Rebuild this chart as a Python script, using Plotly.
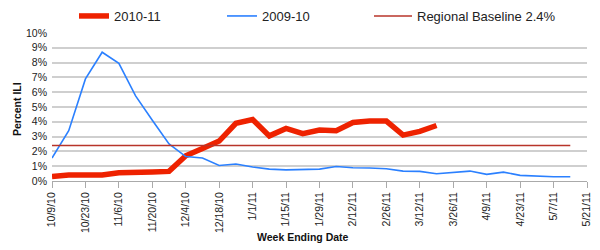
import plotly.graph_objects as go

weeks = ["2010-10-09", "2010-10-16", "2010-10-23", "2010-10-30", "2010-11-06", "2010-11-13",
         "2010-11-20", "2010-11-27", "2010-12-04", "2010-12-11", "2010-12-18", "2010-12-25",
         "2011-01-01", "2011-01-08", "2011-01-15", "2011-01-22", "2011-01-29", "2011-02-05",
         "2011-02-12", "2011-02-19", "2011-02-26", "2011-03-05", "2011-03-12", "2011-03-19",
         "2011-03-26", "2011-04-02", "2011-04-09", "2011-04-16", "2011-04-23", "2011-04-30",
         "2011-05-07", "2011-05-14"]

ili_2010_11 = [0.3, 0.4, 0.4, 0.4, 0.55, 0.55, 0.6, 0.65, 1.7, 2.2, 2.7, 3.9,
               4.15, 3.05, 3.55, 3.2, 3.45, 3.4, 3.95, 4.05, 4.05, 3.1, 3.35, 3.75]

ili_2009_10 = [1.55, 3.4, 6.9, 8.7, 7.95, 5.75, 4.1, 2.5, 1.65, 1.55, 1.05, 1.15,
               0.95, 0.8, 0.75, 0.75, 0.8, 0.98, 0.9, 0.88, 0.83, 0.67, 0.65, 0.49,
               0.58, 0.67, 0.45, 0.6, 0.38, 0.31, 0.29, 0.29]

baseline = 2.4
baseline_label = "Regional Baseline 2.4%"

y_tickvals = [0, 1, 2, 3, 4, 5, 6, 7, 8, 9, 10]
y_ticktext = [f"{v}%" for v in y_tickvals]

font_family = "Liberation Sans, Arial, sans-serif"

fig = go.Figure()
fig.add_trace(go.Scatter(x=weeks[:len(ili_2010_11)], y=ili_2010_11, mode="lines",
                         name="2010-11", legend="legend",
                         line=dict(color="#ee2200", width=5.5)))
fig.add_trace(go.Scatter(x=weeks, y=ili_2009_10, mode="lines",
                         name="2009-10", legend="legend2",
                         line=dict(color="#2b80ff", width=1.6)))
fig.add_trace(go.Scatter(x=weeks, y=[baseline] * len(weeks), mode="lines",
                         name=baseline_label, legend="legend3",
                         line=dict(color="#b8342a", width=1.6)))

leg_common = dict(orientation="h", yref="container", y=1 - 16 / 250, yanchor="middle",
                  xref="container", xanchor="left",
                  font=dict(size=13, color="#222", family=font_family),
                  bgcolor="rgba(0,0,0,0)", borderwidth=0)

fig.update_layout(
    width=600, height=250,
    margin=dict(l=52, r=13, t=33, b=69, autoexpand=False),
    paper_bgcolor="white", plot_bgcolor="white",
    font=dict(family=font_family, size=11, color="#333"),
    showlegend=True,
    legend=dict(leg_common, x=74 / 600),
    legend2=dict(leg_common, x=222 / 600),
    legend3=dict(leg_common, x=369 / 600, itemwidth=38),
    annotations=[
        dict(text="<b>Week Ending Date</b>", xref="paper", yref="paper",
             x=(303 - 52) / 535, y=-(237 - 181) / 148, xanchor="center", yanchor="middle",
             showarrow=False, font=dict(size=10.5, color="#111")),
        dict(text="<b>Percent ILI</b>", xref="paper", yref="paper", textangle=-90,
             x=-(52 - 17) / 535, y=(181 - 109) / 148, xanchor="center", yanchor="middle",
             showarrow=False, font=dict(size=10.5, color="#111")),
    ],
)

fig.update_xaxes(
    type="date", range=["2010-10-09", "2011-05-21"],
    tickmode="array",
    tickvals=weeks[::2] + ["2011-05-21"],
    tickformat="%-m/%-d/%y", tickangle=-90,
    ticks="outside", ticklen=6, tickcolor="#aaa", tickwidth=1,
    showline=True, linecolor="#aaa", linewidth=1,
    showgrid=False, zeroline=False,
    tickfont=dict(size=10.5, color="#222"),
)
fig.update_yaxes(
    range=[0, 10], tickmode="array", tickvals=y_tickvals, ticktext=y_ticktext,
    showgrid=True, gridcolor="#cfcfcf", gridwidth=1.5,
    zeroline=False, showline=False, ticks="", ticklabelstandoff=4,
    tickfont=dict(size=10.5, color="#222"),
)

fig.write_html("out.html")
